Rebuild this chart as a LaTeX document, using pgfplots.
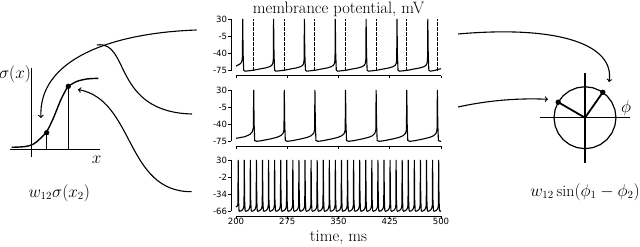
\documentclass[border=0pt]{standalone}
\usepackage{pgfplots}
\pgfplotsset{compat=1.18}
\usepackage{fontspec}
\newfontfamily\tickfont{DejaVu Sans}
\newcommand\bigf{\fontsize{16.6}{19}\selectfont}
\newcommand\mathf{\fontsize{16}{19}\selectfont}
\pgfplotsset{spk/.style={
  scale only axis, width=205bp, height=51bp, xmin=200, xmax=500,
  axis lines=left, axis line style={-, line width=0.6bp},
  every outer x axis line/.append style={-}, every outer y axis line/.append style={-},
  axis x line shift=5bp, axis y line shift=5bp,
  tick align=outside, major tick length=2.7bp, tick style={line width=0.6bp, black},
  xtick={200,275,350,425,500},
  ticklabel style={font=\tickfont\fontsize{8.6}{9}\selectfont},
  xticklabel style={inner sep=0.5bp, yshift=1bp},
  yticklabel style={inner sep=1bp},
  clip=false, enlargelimits=false, anchor=south west, unbounded coords=jump,
}}
\begin{document}
\begin{tikzpicture}
\useasboundingbox (0,0) rectangle (640bp,247bp);
% top panel
\begin{axis}[spk, at={(236bp,176.3bp)}, height=51.7bp, ymin=-75, ymax=30,
  ytick={-75,-40,-5,30}, yticklabels={-75,-40,-5,30}, xticklabels={}]
\addplot[black, line width=0.9bp, dash pattern=on 3.2bp off 1.8bp] coordinates {
(225.9,-75)(225.9,30)(225.9,nan)(270.7,-75)(270.7,30)(270.7,nan)
(315.5,-75)(315.5,30)(315.5,nan)(360.3,-75)(360.3,30)(360.3,nan)
(405.1,-75)(405.1,30)(405.1,nan)(449.9,-75)(449.9,30)(449.9,nan)
(494.7,-75)(494.7,30)};
\addplot[black, line width=1.1bp] coordinates {
(200,-65.5)(204.9,-62.2)(207.5,-59)(208.9,-54)(209.4,-48)(209.8,30)
(210.4,-40)(211.3,-74)(213.3,-76)(219.8,-75)(225.8,-74)(234.8,-71.5)(242.8,-69.5)
(249.0,-67)(252.4,-64)(253.9,-60)(254.6,-52)(255.0,30)
(255.6,-40)(256.5,-74)(258.5,-76)(265.0,-75)(271.0,-74)(280.0,-71.5)(288.0,-69.5)
(294.1,-67)(297.5,-64)(299.0,-60)(299.7,-52)(300.1,30)
(300.7,-40)(301.6,-74)(303.6,-76)(310.1,-75)(316.1,-74)(325.1,-71.5)(333.1,-69.5)
(339.3,-67)(342.7,-64)(344.2,-60)(344.9,-52)(345.3,30)
(345.9,-40)(346.8,-74)(348.8,-76)(355.3,-75)(361.3,-74)(370.3,-71.5)(378.3,-69.5)
(384.4,-67)(387.8,-64)(389.3,-60)(390.0,-52)(390.4,30)
(391.0,-40)(391.9,-74)(393.9,-76)(400.4,-75)(406.4,-74)(415.4,-71.5)(423.4,-69.5)
(429.6,-67)(433.0,-64)(434.5,-60)(435.2,-52)(435.6,30)
(436.2,-40)(437.1,-74)(439.1,-76)(445.6,-75)(451.6,-74)(460.6,-71.5)(468.6,-69.5)
(474.7,-67)(478.1,-64)(479.6,-60)(480.3,-52)(480.7,30)
(481.3,-40)(482.2,-74)(484.2,-76)(490.7,-74.5)(496.7,-72)(500,-71)};
\end{axis}
% middle panel
\begin{axis}[spk, at={(236bp,106bp)}, ymin=-75, ymax=30,
  ytick={-75,-40,-5,30}, yticklabels={-75,-40,-5,30}, xticklabels={}]
\addplot[black, line width=1.1bp] coordinates {
(200,-69.5)(213.2,-66.1)(220.5,-61.3)(223.9,-55.8)(225.4,-48)(225.9,30)
(226.5,-40)(227.4,-74)(230.3,-75.7)(237.6,-74.3)(249.8,-70.9)(259.6,-67.5)(265.4,-64)(268.9,-59)(270.2,-52)(270.7,30)
(271.3,-40)(272.2,-74)(275.1,-75.7)(282.4,-74.3)(294.6,-70.9)(304.4,-67.5)(310.2,-64)(313.7,-59)(315.0,-52)(315.5,30)
(316.1,-40)(317.0,-74)(319.9,-75.7)(327.2,-74.3)(339.4,-70.9)(349.2,-67.5)(355.0,-64)(358.5,-59)(359.8,-52)(360.3,30)
(360.9,-40)(361.8,-74)(364.7,-75.7)(372.0,-74.3)(384.2,-70.9)(394.0,-67.5)(399.8,-64)(403.3,-59)(404.6,-52)(405.1,30)
(405.7,-40)(406.6,-74)(409.5,-75.7)(416.8,-74.3)(429.0,-70.9)(438.8,-67.5)(444.6,-64)(448.1,-59)(449.4,-52)(449.9,30)
(450.5,-40)(451.4,-74)(454.3,-75.7)(461.6,-74.3)(473.8,-70.9)(483.6,-67.5)(489.4,-64)(492.9,-59)(494.2,-52)(494.7,30)
(495.3,-40)(496.2,-74)(499.1,-75.7)(500,-75.5)};
\end{axis}
% bottom panel
\begin{axis}[spk, at={(236bp,36bp)}, ymin=-66, ymax=30,
  ytick={-66,-34,-2,30}, yticklabels={-66,-34,-2,30}, xticklabels={200,275,350,425,500}]
\addplot[black, line width=1.1bp] coordinates {
(200,-58.2)(201.8,-57)(202.8,-53)
(203.2,30)(203.7,-45)(204.4,-65)(205.4,-66.5)(207.7,-65.5)(209.7,-63.5)(210.9,-60.5)(211.7,-55)
(212.1,30)(212.6,-45)(213.3,-65)(214.3,-66.5)(216.6,-65.5)(218.6,-63.5)(219.8,-60.5)(220.6,-55)
(221.0,30)(221.5,-45)(222.2,-65)(223.2,-66.5)(225.5,-65.5)(227.5,-63.5)(228.7,-60.5)(229.5,-55)
(229.9,30)(230.4,-45)(231.1,-65)(232.1,-66.5)(234.4,-65.5)(236.4,-63.5)(237.6,-60.5)(238.4,-55)
(238.8,30)(239.3,-45)(240.0,-65)(241.0,-66.5)(243.3,-65.5)(245.3,-63.5)(246.5,-60.5)(247.3,-55)
(247.7,30)(248.2,-45)(248.9,-65)(249.9,-66.5)(252.2,-65.5)(254.2,-63.5)(255.4,-60.5)(256.1,-55)
(256.5,30)(257.0,-45)(257.7,-65)(258.7,-66.5)(261.0,-65.5)(263.0,-63.5)(264.2,-60.5)(265.0,-55)
(265.4,30)(265.9,-45)(266.6,-65)(267.6,-66.5)(269.9,-65.5)(271.9,-63.5)(273.1,-60.5)(273.9,-55)
(274.3,30)(274.8,-45)(275.5,-65)(276.5,-66.5)(278.8,-65.5)(280.8,-63.5)(282.0,-60.5)(282.8,-55)
(283.2,30)(283.7,-45)(284.4,-65)(285.4,-66.5)(287.7,-65.5)(289.7,-63.5)(290.9,-60.5)(291.7,-55)
(292.1,30)(292.6,-45)(293.3,-65)(294.3,-66.5)(296.6,-65.5)(298.6,-63.5)(299.8,-60.5)(300.6,-55)
(301.0,30)(301.5,-45)(302.2,-65)(303.2,-66.5)(305.5,-65.5)(307.5,-63.5)(308.7,-60.5)(309.5,-55)
(309.9,30)(310.4,-45)(311.1,-65)(312.1,-66.5)(314.4,-65.5)(316.4,-63.5)(317.6,-60.5)(318.4,-55)
(318.8,30)(319.3,-45)(320.0,-65)(321.0,-66.5)(323.3,-65.5)(325.3,-63.5)(326.5,-60.5)(327.3,-55)
(327.7,30)(328.2,-45)(328.9,-65)(329.9,-66.5)(332.2,-65.5)(334.2,-63.5)(335.4,-60.5)(336.2,-55)
(336.6,30)(337.1,-45)(337.8,-65)(338.8,-66.5)(341.1,-65.5)(343.1,-63.5)(344.3,-60.5)(345.0,-55)
(345.4,30)(345.9,-45)(346.6,-65)(347.6,-66.5)(349.9,-65.5)(351.9,-63.5)(353.1,-60.5)(353.9,-55)
(354.3,30)(354.8,-45)(355.5,-65)(356.5,-66.5)(358.8,-65.5)(360.8,-63.5)(362.0,-60.5)(362.8,-55)
(363.2,30)(363.7,-45)(364.4,-65)(365.4,-66.5)(367.7,-65.5)(369.7,-63.5)(370.9,-60.5)(371.7,-55)
(372.1,30)(372.6,-45)(373.3,-65)(374.3,-66.5)(376.6,-65.5)(378.6,-63.5)(379.8,-60.5)(380.6,-55)
(381.0,30)(381.5,-45)(382.2,-65)(383.2,-66.5)(385.5,-65.5)(387.5,-63.5)(388.7,-60.5)(389.5,-55)
(389.9,30)(390.4,-45)(391.1,-65)(392.1,-66.5)(394.4,-65.5)(396.4,-63.5)(397.6,-60.5)(398.4,-55)
(398.8,30)(399.3,-45)(400.0,-65)(401.0,-66.5)(403.3,-65.5)(405.3,-63.5)(406.5,-60.5)(407.3,-55)
(407.7,30)(408.2,-45)(408.9,-65)(409.9,-66.5)(412.2,-65.5)(414.2,-63.5)(415.4,-60.5)(416.2,-55)
(416.6,30)(417.1,-45)(417.8,-65)(418.8,-66.5)(421.1,-65.5)(423.1,-63.5)(424.3,-60.5)(425.1,-55)
(425.5,30)(426.0,-45)(426.7,-65)(427.7,-66.5)(430.0,-65.5)(432.0,-63.5)(433.2,-60.5)(433.9,-55)
(434.3,30)(434.8,-45)(435.5,-65)(436.5,-66.5)(438.8,-65.5)(440.8,-63.5)(442.0,-60.5)(442.8,-55)
(443.2,30)(443.7,-45)(444.4,-65)(445.4,-66.5)(447.7,-65.5)(449.7,-63.5)(450.9,-60.5)(451.7,-55)
(452.1,30)(452.6,-45)(453.3,-65)(454.3,-66.5)(456.6,-65.5)(458.6,-63.5)(459.8,-60.5)(460.6,-55)
(461.0,30)(461.5,-45)(462.2,-65)(463.2,-66.5)(465.5,-65.5)(467.5,-63.5)(468.7,-60.5)(469.5,-55)
(469.9,30)(470.4,-45)(471.1,-65)(472.1,-66.5)(474.4,-65.5)(476.4,-63.5)(477.6,-60.5)(478.4,-55)
(478.8,30)(479.3,-45)(480.0,-65)(481.0,-66.5)(483.3,-65.5)(485.3,-63.5)(486.5,-60.5)(487.3,-55)
(487.7,30)(488.2,-45)(488.9,-65)(489.9,-66.5)(492.2,-65.5)(494.2,-63.5)(495.4,-60.5)(496.2,-55)
(496.6,30)(497.1,-45)(497.8,-65)(498.8,-66.5)(500,-66)};
\end{axis}
% overlay: schematic diagrams in pixel coordinates
\begin{axis}[at={(0,0)}, anchor=south west, scale only axis, width=640bp, height=247bp,
  xmin=0, xmax=640, ymin=0, ymax=247, y dir=reverse, hide axis, clip=false]
% sigmoid axes
\addplot[black, line width=1.2bp] coordinates {(31.7,68)(31.7,157)};
\addplot[black, line width=1.2bp] coordinates {(10,149.3)(100,149.3)};
\addplot[black, line width=1.2bp] coordinates {(46.7,132.7)(46.7,149.3)};
\addplot[black, line width=1.2bp] coordinates {(68.3,86)(68.3,149.3)};
\addplot[black, line width=1.4bp, smooth] coordinates {
(11.7,147.3)(25,146.6)(33.3,144.2)(40,138.8)(46.7,131.5)(53.3,118.3)(60,101.7)(64.5,92.5)(68.3,86.5)(76.7,81.5)(86.7,79)(98.3,78.3)};
\addplot[only marks, mark=*, mark size=2.4bp, black] coordinates {(46.7,132.7)(68.3,86.3)};
% circle diagram
\addplot[black, line width=1.2bp] coordinates {(585,73.3)(585,163.3)};
\addplot[black, line width=1.2bp] coordinates {(540,117.7)(630,117.7)};
\addplot[black, line width=1.2bp] coordinates {
(616.0,117.7)(614.9,109.7)(611.8,102.2)(606.9,95.8)(600.5,90.9)(593.0,87.8)(585.0,86.7)
(577.0,87.8)(569.5,90.9)(563.1,95.8)(558.2,102.2)(555.1,109.7)(554.0,117.7)(555.1,125.7)
(558.2,133.2)(563.1,139.6)(569.5,144.5)(577.0,147.6)(585.0,148.7)(593.0,147.6)(600.5,144.5)
(606.9,139.6)(611.8,133.2)(614.9,125.7)(616.0,117.7)};
\addplot[black, line width=1.8bp] coordinates {(558.2,102.2)(585,117.7)(602.8,92.3)};
\addplot[only marks, mark=*, mark size=2.4bp, black] coordinates {(558.2,102.2)(602.8,92.3)};
% arrows
\draw[->, line width=1.1bp] (196.7,30) .. controls (110,33) and (38,60) .. (41,118);
\draw[line width=1.1bp] (97,45) .. controls (130,40) and (112,112) .. (192,114);
\draw[->, line width=1.1bp] (191.7,191.7) .. controls (125,192) and (135,100) .. (78,89.5);
\draw[->, line width=1.1bp] (458,34) .. controls (560,25) and (615,45) .. (609,82);
\draw[->, line width=1.1bp] (458,107) .. controls (490,100) and (520,98) .. (548,99.3);
% labels
\node at (15,74) {\mathf$\sigma(x)$};
\node at (96.7,160) {\mathf$x$};
\node at (626,108) {\mathf$\phi$};
\node at (59.3,192.7) {\mathf$w_{12}\sigma(x_2)$};
\node at (585,191.7) {\mathf$w_{12}\sin(\phi_1-\phi_2)$};
\node[anchor=base, inner sep=0pt] at (338.5,13.2) {\bigf membrance potential, mV};
\node[anchor=base, inner sep=0pt] at (338.5,241) {\bigf time, ms};
\end{axis}
\end{tikzpicture}
\end{document}
